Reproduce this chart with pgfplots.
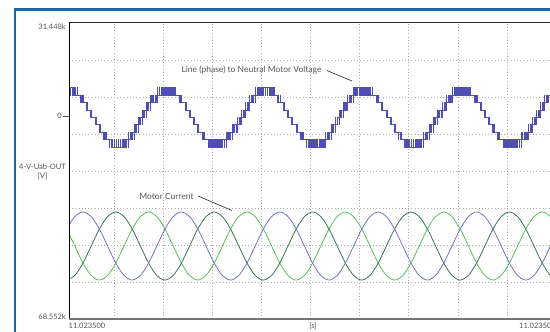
\documentclass[border=0pt]{standalone}
\usepackage{fontspec}
\setmainfont{Lato}
\usepackage{pgfplots}
\pgfplotsset{compat=1.18}
\usepackage{pgfplotstable}

\definecolor{frameblue}{RGB}{22,104,170}
\definecolor{vblue}{RGB}{78,78,180}
\definecolor{cblue}{RGB}{108,108,205}
\definecolor{cdkgreen}{RGB}{45,110,78}
\definecolor{cltgreen}{RGB}{78,192,78}
\definecolor{txtgray}{RGB}{85,85,85}
\definecolor{gridgray}{RGB}{175,175,175}

% one period of the stepped PWM phase voltage (kV), x in px from a peak
\pgfplotstableread{
x y
0 9.6
1.460 7.1
2.05 9.6
3.380 7.1
4.10 9.6
5.172 7.1
6.15 9.6
6.839 7.1
8.20 9.6
8.391 7.1
10.25 7.1
11.884 4.6
12.30 7.1
13.229 4.6
14.35 7.1
14.487 4.6
16.40 4.6
17.722 2.1
18.45 4.6
18.852 2.1
20.50 2.1
21.988 -0.4
22.55 2.1
23.048 -0.4
24.60 -0.4
26.152 -2.9
26.65 -0.4
27.212 -2.9
28.70 -2.9
30.348 -5.4
30.75 -2.9
31.478 -5.4
32.80 -5.4
34.713 -7.9
34.85 -5.4
35.971 -7.9
36.90 -5.4
37.316 -7.9
38.95 -7.9
40.809 -10.4
41.00 -7.9
42.361 -10.4
43.05 -7.9
44.028 -10.4
45.10 -7.9
45.820 -10.4
47.15 -7.9
47.740 -10.4
49.20 -7.9
49.790 -10.4
51.25 -7.9
51.970 -10.4
53.30 -7.9
54.278 -10.4
55.35 -7.9
56.711 -10.4
57.40 -7.9
59.259 -10.4
59.45 -5.4
59.866 -7.9
61.50 -5.4
62.621 -7.9
63.55 -5.4
65.463 -7.9
65.60 -2.9
66.328 -5.4
67.65 -2.9
69.298 -5.4
69.70 -0.4
70.262 -2.9
71.75 -0.4
73.302 -2.9
73.80 2.1
74.298 -0.4
75.85 2.1
77.338 -0.4
77.90 4.6
78.302 2.1
79.95 4.6
81.272 2.1
82.00 7.1
82.137 4.6
84.05 7.1
84.979 4.6
86.10 7.1
87.734 4.6
88.15 9.6
88.341 7.1
90.20 9.6
90.889 7.1
92.25 9.6
93.322 7.1
94.30 9.6
95.630 7.1
96.35 9.6
97.810 7.1
98.40 9.6
}\volt

% three-phase motor current
\pgfplotstableread{
x b g l
-2.4 -38.15 -55.40 -38.15
5.8 -33.94 -53.86 -43.90
14.0 -32.40 -49.65 -49.65
22.2 -33.94 -43.90 -53.86
30.4 -38.15 -38.15 -55.40
38.6 -43.90 -33.94 -53.86
46.8 -49.65 -32.40 -49.65
55.0 -53.86 -33.94 -43.90
63.2 -55.40 -38.15 -38.15
71.4 -53.86 -43.90 -33.94
79.6 -49.65 -49.65 -32.40
87.8 -43.90 -53.86 -33.94
96.0 -38.15 -55.40 -38.15
104.2 -33.94 -53.86 -43.90
112.4 -32.40 -49.65 -49.65
120.6 -33.94 -43.90 -53.86
128.8 -38.15 -38.15 -55.40
137.0 -43.90 -33.94 -53.86
145.2 -49.65 -32.40 -49.65
153.4 -53.86 -33.94 -43.90
161.6 -55.40 -38.15 -38.15
169.8 -53.86 -43.90 -33.94
178.0 -49.65 -49.65 -32.40
186.2 -43.90 -53.86 -33.94
194.4 -38.15 -55.40 -38.15
202.6 -33.94 -53.86 -43.90
210.8 -32.40 -49.65 -49.65
219.0 -33.94 -43.90 -53.86
227.2 -38.15 -38.15 -55.40
235.4 -43.90 -33.94 -53.86
243.6 -49.65 -32.40 -49.65
251.8 -53.86 -33.94 -43.90
260.0 -55.40 -38.15 -38.15
268.2 -53.86 -43.90 -33.94
276.4 -49.65 -49.65 -32.40
284.6 -43.90 -53.86 -33.94
292.8 -38.15 -55.40 -38.15
301.0 -33.94 -53.86 -43.90
309.2 -32.40 -49.65 -49.65
317.4 -33.94 -43.90 -53.86
325.6 -38.15 -38.15 -55.40
333.8 -43.90 -33.94 -53.86
342.0 -49.65 -32.40 -49.65
350.2 -53.86 -33.94 -43.90
358.4 -55.40 -38.15 -38.15
366.6 -53.86 -43.90 -33.94
374.8 -49.65 -49.65 -32.40
383.0 -43.90 -53.86 -33.94
391.2 -38.15 -55.40 -38.15
399.4 -33.94 -53.86 -43.90
407.6 -32.40 -49.65 -49.65
415.8 -33.94 -43.90 -53.86
424.0 -38.15 -38.15 -55.40
432.2 -43.90 -33.94 -53.86
440.4 -49.65 -32.40 -49.65
448.6 -53.86 -33.94 -43.90
456.8 -55.40 -38.15 -38.15
465.0 -53.86 -43.90 -33.94
473.2 -49.65 -49.65 -32.40
481.4 -43.90 -53.86 -33.94
489.6 -38.15 -55.40 -38.15
}\curr

\begin{document}
\begin{tikzpicture}[x=1pt,y=1pt]
\useasboundingbox (0,0) rectangle (550,332);
\clip (0,0) rectangle (550,332);
\fill[white] (0,0) rectangle (550,332);
\begin{axis}[
  at={(69pt,13pt)}, anchor=south west,
  scale only axis, width=488pt, height=296pt,
  xmin=0, xmax=488, ymin=-68.552, ymax=31.448,
  axis line style={draw=none},
  xtick=\empty, ytick=\empty,
  extra x ticks={45.7,94.6,143.7,192.7,241.7,290.8,339.8,388.9,437.9,486.9},
  extra x tick labels={},
  extra y ticks={18.948,6.448,-6.052,-18.552,-31.052,-43.552,-56.052},
  extra y tick labels={},
  extra tick style={grid=major, major tick length=0pt},
  grid style={gridgray, line width=0.8pt, dash pattern=on 0.8pt off 2.4pt},
  clip=true,
]
\addplot[const plot, vblue, line width=0.55pt] table[x expr=\thisrow{x}-0.3, y=y]{\volt};
\addplot[const plot, vblue, line width=0.55pt] table[x expr=\thisrow{x}+98.1, y=y]{\volt};
\addplot[const plot, vblue, line width=0.55pt] table[x expr=\thisrow{x}+196.5, y=y]{\volt};
\addplot[const plot, vblue, line width=0.55pt] table[x expr=\thisrow{x}+294.9, y=y]{\volt};
\addplot[const plot, vblue, line width=0.55pt] table[x expr=\thisrow{x}+393.3, y=y]{\volt};
\addplot[smooth, cltgreen, line width=0.75pt] table[x=x, y=l]{\curr};
\addplot[smooth, cdkgreen, line width=0.75pt] table[x=x, y=g]{\curr};
\addplot[smooth, cblue, line width=0.75pt] table[x=x, y=b]{\curr};
\end{axis}
% axis frame
\draw[black!85, line width=1pt] (69,309) -- (560,309);
\draw[black, line width=0.9pt] (69,12.5) -- (69,309.5);
\draw[black!55, line width=1.6pt] (68.5,13) -- (560,13);
% outer panel frame
\draw[frameblue, line width=2.6pt] (15,-10) -- (15,322.7) -- (570,322.7);
% y tick at 0
\draw[black!70, line width=0.6pt] (63,216) -- (69,216);
\begin{scope}[every node/.style={text=txtgray, font=\fontsize{7.5}{9}\selectfont, inner sep=0pt}]
\node[anchor=east] at (62,216) {0};
\node[anchor=east] at (66,305.3) {31.448k};
\node[anchor=east] at (66,15.6) {68.552k};
\node[align=center] at (42.5,160) {4-V-Uab-OUT\\{}[V]};
\node[anchor=west] at (68.5,6) {11.023500};
\node at (313,6) {[s]};
\node[anchor=east] at (556,6) {11.023500};
\end{scope}
% annotations
\node[text=txtgray, font=\fontsize{8.5}{10}\selectfont, inner sep=0pt] at (251.5,262) {Line (phase) to Neutral Motor Voltage};
\draw[black!85, line width=0.6pt] (327,261.5) -- (352,251);
\node[text=txtgray, font=\fontsize{8.5}{10}\selectfont, inner sep=0pt] at (166.5,136) {Motor Current};
\draw[black!85, line width=0.6pt] (198,136) -- (232,121.5);
\end{tikzpicture}
\end{document}
